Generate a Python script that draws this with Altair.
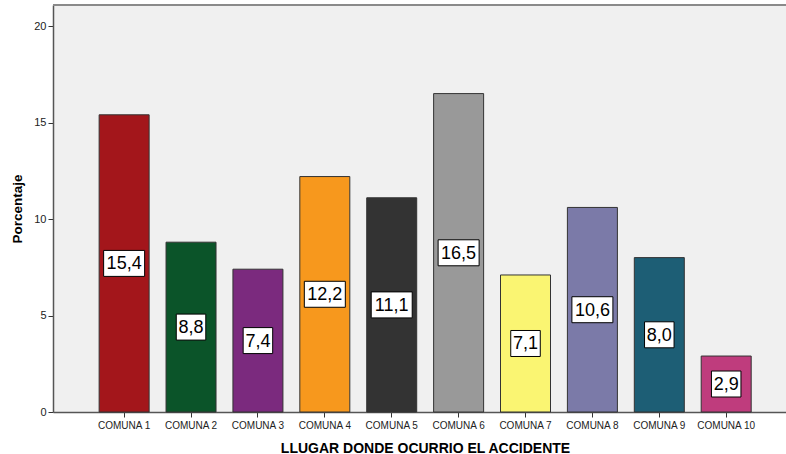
import altair as alt
import pandas as pd

# Accident share by comuna (percent)
comunas = ["COMUNA 1", "COMUNA 2", "COMUNA 3", "COMUNA 4", "COMUNA 5",
           "COMUNA 6", "COMUNA 7", "COMUNA 8", "COMUNA 9", "COMUNA 10"]
porcentaje = [15.4, 8.8, 7.4, 12.2, 11.1, 16.5, 7.1, 10.6, 8.0, 2.9]
colores = ["#a3161b", "#0b5429", "#7b2a7e", "#f7981d", "#333333",
           "#999999", "#faf572", "#7b7aa8", "#1d5e75", "#bf3c7d"]

df = pd.DataFrame({"comuna": comunas, "valor": porcentaje})

W, H = 733, 407
FONT = "Liberation Sans"

x_scale = alt.Scale(domain=comunas, paddingInner=0.2526, paddingOuter=0.605, align=0.57)
y_scale = alt.Scale(domain=[0, 21.09], nice=False, zero=True)

x_enc = alt.X(
    "comuna:N", scale=x_scale, sort=comunas,
    axis=alt.Axis(
        title="LLUGAR DONDE OCURRIO EL ACCIDENTE", titleFont=FONT, titleFontSize=14,
        titleFontWeight="bold", titleColor="#000000", titlePadding=11, titleX=372,
        labelFont=FONT, labelFontSize=10, labelColor="#222222", labelAngle=0,
        labelPadding=3, tickSize=5, tickColor="#333333", domainColor="#555555",
        domainWidth=1.5,
    ),
)

base = alt.Chart(df)

bars = base.mark_bar(stroke="#333333", strokeWidth=1, opacity=1).encode(
    x=x_enc,
    y=alt.Y(
        "valor:Q", scale=y_scale,
        axis=alt.Axis(
            title="Porcentaje", titleFont=FONT, titleFontSize=13.5, titleFontWeight="bold",
            titleColor="#000000", titlePadding=9, values=[0, 5, 10, 15, 20], grid=False,
            labelFont=FONT, labelFontSize=11, labelColor="#222222", labelPadding=2,
            tickSize=5, tickColor="#333333", domainColor="#555555", domainWidth=1.5,
        ),
    ),
    color=alt.Color("comuna:N", scale=alt.Scale(domain=comunas, range=colores), legend=None),
)

labelled = base.transform_calculate(
    mitad="datum.valor / 2",
    etiqueta="replace(format(datum.valor, '.1f'), '.', ',')",
)

# White framed boxes behind the value labels; width follows the label length
wide_box = "M-1,-0.634L1,-0.634L1,0.634L-1,0.634Z"
narrow_box = "M-0.72,-0.634L0.72,-0.634L0.72,0.634L-0.72,0.634Z"

boxes = labelled.mark_point(
    filled=True, fill="#ffffff", stroke="#000000", strokeWidth=1, opacity=1, size=41 * 41
).encode(
    x=alt.X("comuna:N", scale=x_scale, sort=comunas),
    y=alt.Y("mitad:Q", scale=y_scale),
    shape=alt.condition("length(datum.etiqueta) > 3", alt.value(wide_box), alt.value(narrow_box)),
)

texts = labelled.mark_text(
    font=FONT, fontSize=18, color="#000000", baseline="middle", align="center", dy=1
).encode(
    x=alt.X("comuna:N", scale=x_scale, sort=comunas),
    y=alt.Y("mitad:Q", scale=y_scale),
    text="etiqueta:N",
)

top_line = base.mark_rule(color="#8a8a8a", strokeWidth=2).encode(
    x=alt.value(0), x2=alt.value(W), y=alt.value(0)
)

chart = alt.layer(bars, boxes, texts, top_line).properties(
    width=W, height=H,
    autosize=alt.AutoSizeParams(type="none"),
    padding={"left": 53, "top": 5, "right": 0, "bottom": 42},
    background="#ffffff",
).configure_view(fill="#f0f0f0", stroke=None)

chart.save("out.html", embed_options={"renderer": "svg", "actions": False})
